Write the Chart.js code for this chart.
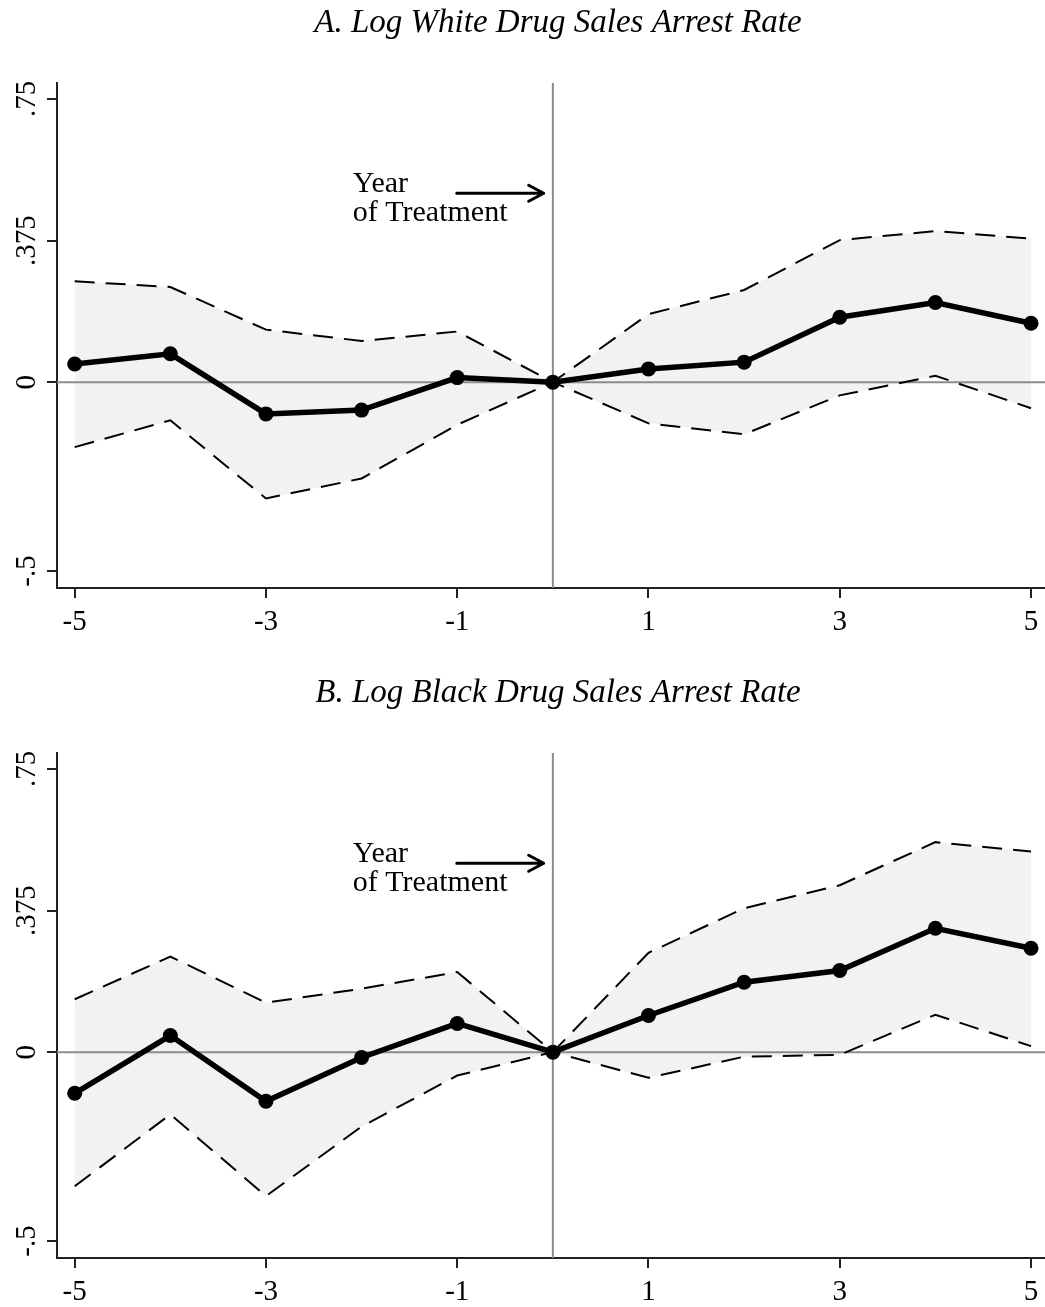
<!DOCTYPE html>
<html>
<head>
<meta charset="utf-8">
<script src="https://cdn.jsdelivr.net/npm/chart.js@4.4.1/dist/chart.umd.min.js"></script>
<style>
  html, body { margin: 0; padding: 0; background: #fff; }
  .panel { position: absolute; left: 0; width: 1045px; height: 637px; }
  #pA { top: 0; }
  #pB { top: 670px; }
</style>
</head>
<body>
<div class="panel" id="pA"><canvas id="cA" width="1045" height="637"></canvas></div>
<div class="panel" id="pB"><canvas id="cB" width="1045" height="637"></canvas></div>
<script>
// Event time relative to the year of treatment
const years = [-5, -4, -3, -2, -1, 0, 1, 2, 3, 4, 5];

// Panel A: log white drug sales arrest rate (estimate and 95% band)
const whiteEst   = [0.048, 0.075, -0.084, -0.074, 0.012, 0, 0.035, 0.053, 0.172, 0.211, 0.156];
const whiteUpper = [0.267, 0.252, 0.139, 0.109, 0.134, 0, 0.180, 0.244, 0.376, 0.400, 0.380];
const whiteLower = [-0.172, -0.101, -0.308, -0.255, -0.113, 0, -0.109, -0.138, -0.035, 0.017, -0.069];

// Panel B: log black drug sales arrest rate (estimate and 95% band)
const blackEst   = [-0.109, 0.044, -0.130, -0.014, 0.076, 0, 0.097, 0.185, 0.216, 0.328, 0.275];
const blackUpper = [0.140, 0.253, 0.131, 0.168, 0.212, 0, 0.263, 0.381, 0.442, 0.556, 0.531];
const blackLower = [-0.355, -0.165, -0.381, -0.197, -0.062, 0, -0.068, -0.012, -0.007, 0.099, 0.016];

// Axis ticks and labels
const xTicks = [-5, -3, -1, 1, 3, 5];
const yTicks = [-0.5, 0, 0.375, 0.75];
const yTickLabels = ['-.5', '0', '.375', '.75'];

const titles = ['A. Log White Drug Sales Arrest Rate', 'B. Log Black Drug Sales Arrest Rate'];
const noteLines = ['Year', 'of Treatment'];

// Plot range and text placement (in axis units)
const X_MIN = -5.185, X_MAX = 5.146;
const Y_MIN = -0.545, Y_MAX = 0.792;
const NOTE_X = -2.092, NOTE_Y = [0.5045, 0.4277];
const ARROW = { x0: -1.005, x1: -0.096, y: 0.5 };

const SERIF = '"Liberation Serif", "Times New Roman", serif';

const pts = arr => years.map((x, i) => ({ x: x, y: arr[i] }));

const decor = {
  id: 'decor',
  afterDraw(chart, args, opts) {
    const ctx = chart.ctx;
    const xs = chart.scales.x, ys = chart.scales.y;
    ctx.save();
    ctx.fillStyle = '#000';

    // panel title
    ctx.font = 'italic 33px ' + SERIF;
    ctx.textAlign = 'center';
    ctx.textBaseline = 'alphabetic';
    ctx.fillText(opts.title, 558, 32);

    // vertical y tick labels
    ctx.font = '29px ' + SERIF;
    yTicks.forEach((v, i) => {
      ctx.save();
      ctx.translate(35, ys.getPixelForValue(v));
      ctx.rotate(-Math.PI / 2);
      ctx.textAlign = 'center';
      ctx.fillText(yTickLabels[i], 0, 0);
      ctx.restore();
    });

    // treatment-year note with arrow
    ctx.font = '30px ' + SERIF;
    ctx.textAlign = 'left';
    noteLines.forEach((t, i) => {
      ctx.fillText(t, xs.getPixelForValue(NOTE_X), ys.getPixelForValue(NOTE_Y[i]));
    });
    const ax0 = xs.getPixelForValue(ARROW.x0);
    const ax1 = xs.getPixelForValue(ARROW.x1);
    const ay = ys.getPixelForValue(ARROW.y);
    ctx.strokeStyle = '#000';
    ctx.lineWidth = 3;
    ctx.lineCap = 'round';
    ctx.lineJoin = 'round';
    ctx.beginPath();
    ctx.moveTo(ax0, ay);
    ctx.lineTo(ax1, ay);
    ctx.moveTo(ax1 - 15, ay - 8);
    ctx.lineTo(ax1, ay);
    ctx.lineTo(ax1 - 15, ay + 8);
    ctx.stroke();
    ctx.restore();
  }
};

function makeChart(id, title, est, upper, lower) {
  return new Chart(document.getElementById(id), {
    type: 'line',
    data: {
      datasets: [
        { data: pts(est), borderColor: '#000', borderWidth: 5.5, pointRadius: 7.5,
          pointBackgroundColor: '#000', pointBorderWidth: 0, fill: false },
        { data: pts(upper), borderColor: '#000', borderWidth: 2, borderDash: [20, 11],
          pointRadius: 0, fill: '+1', backgroundColor: '#f2f2f2' },
        { data: pts(lower), borderColor: '#000', borderWidth: 2, borderDash: [20, 11],
          pointRadius: 0, fill: false },
        { data: [{ x: X_MIN, y: 0 }, { x: X_MAX, y: 0 }], borderColor: '#8c8c8c',
          borderWidth: 2, pointRadius: 0, fill: false },
        { data: [{ x: 0, y: Y_MIN }, { x: 0, y: Y_MAX }], borderColor: '#8c8c8c',
          borderWidth: 2, pointRadius: 0, fill: false }
      ]
    },
    options: {
      responsive: false,
      animation: false,
      layout: { autoPadding: false, padding: { top: 83, left: 0, right: 0, bottom: 0 } },
      elements: { line: { tension: 0 } },
      plugins: {
        legend: { display: false },
        tooltip: { enabled: false },
        filler: { drawTime: 'beforeDatasetsDraw' },
        decor: { title: title }
      },
      scales: {
        x: {
          type: 'linear', min: X_MIN, max: X_MAX,
          afterBuildTicks: s => { s.ticks = xTicks.map(v => ({ value: v })); },
          afterFit: s => { s.height = 49; s.paddingLeft = 0; s.paddingRight = 0; },
          grid: { drawOnChartArea: false, drawTicks: true, tickLength: 10, color: '#222', lineWidth: 2 },
          border: { display: true, color: '#222', width: 2 },
          ticks: { color: '#000', font: { family: SERIF, size: 29 }, padding: 7,
                   maxRotation: 0, autoSkip: false, callback: v => String(v) }
        },
        y: {
          type: 'linear', min: Y_MIN, max: Y_MAX,
          afterBuildTicks: s => { s.ticks = yTicks.map(v => ({ value: v })); },
          afterFit: s => { s.width = 57; s.paddingTop = 0; s.paddingBottom = 0; },
          grid: { drawOnChartArea: false, drawTicks: true, tickLength: 10, color: '#222', lineWidth: 2 },
          border: { display: true, color: '#222', width: 2 },
          ticks: { display: false }
        }
      }
    },
    plugins: [decor]
  });
}

makeChart('cA', titles[0], whiteEst, whiteUpper, whiteLower);
makeChart('cB', titles[1], blackEst, blackUpper, blackLower);
</script>
</body>
</html>
